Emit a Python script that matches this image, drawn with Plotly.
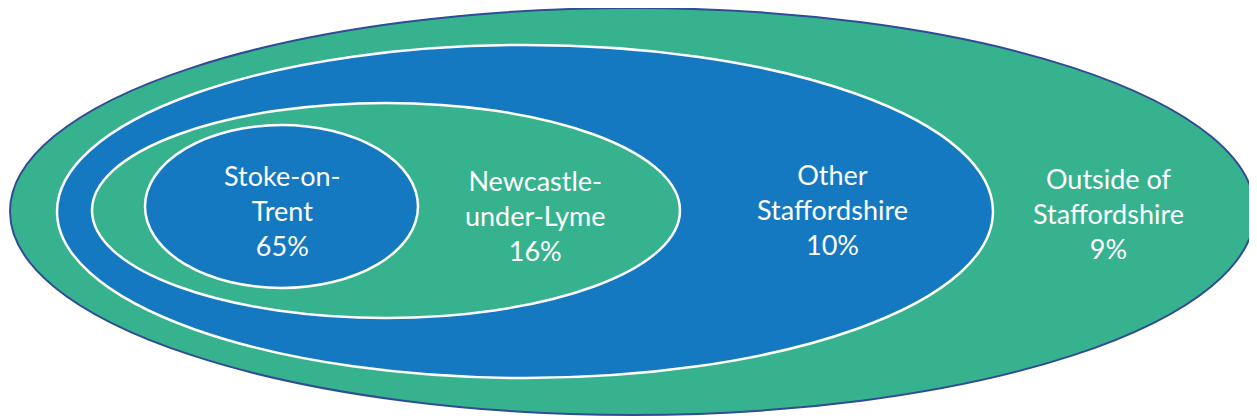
import plotly.graph_objects as go

categories = ["Stoke-on-<br>Trent", "Newcastle-<br>under-Lyme", "Other<br>Staffordshire", "Outside of<br>Staffordshire"]
percentages = [65, 16, 10, 9]

GREEN = "#37B28F"
BLUE = "#1579C1"
BORDER = "#2F4C94"

# ellipse geometry (window pixels), outermost first
ellipses = [
    dict(x0=10, x1=1255, y0=8, y1=415, fill=GREEN, line=BORDER, lw=2),
    dict(x0=57, x1=993, y0=45, y1=378, fill=BLUE, line="white", lw=2.5),
    dict(x0=92, x1=680, y0=103, y1=318, fill=GREEN, line="white", lw=2.5),
    dict(x0=145, x1=418, y0=125, y1=288, fill=BLUE, line="white", lw=2.5),
]
label_pos = [(282, 210), (535, 215), (832, 209), (1108, 213)]

# page body has an 8px default margin; map axes to window pixels
OFF = 8
W, H = 1257, 419

fig = go.Figure()
fig.add_trace(go.Scatter(x=[OFF, W], y=[OFF, H], mode="markers", marker=dict(opacity=0), hoverinfo="skip", showlegend=False))

for e in ellipses:
    fig.add_shape(type="circle", xref="x", yref="y", x0=e["x0"], x1=e["x1"], y0=e["y0"], y1=e["y1"],
                  fillcolor=e["fill"], line=dict(color=e["line"], width=e["lw"]))

# labels ordered innermost first to match categories
for cat, pct, (x, y) in zip(categories, percentages, label_pos):
    fig.add_annotation(x=x, y=y, xref="x", yref="y", text=f"{cat}<br>{pct}%", showarrow=False,
                       font=dict(family="Lato, Open Sans, sans-serif", size=27, color="white"),
                       align="center", xanchor="center", yanchor="middle")

fig.update_layout(
    width=W - OFF, height=H - OFF, margin=dict(l=0, r=0, t=0, b=0),
    paper_bgcolor="white", plot_bgcolor="white",
    xaxis=dict(range=[OFF, W], visible=False, fixedrange=True),
    yaxis=dict(range=[H, OFF], visible=False, fixedrange=True),
    showlegend=False,
)
fig.write_html("out.html")
